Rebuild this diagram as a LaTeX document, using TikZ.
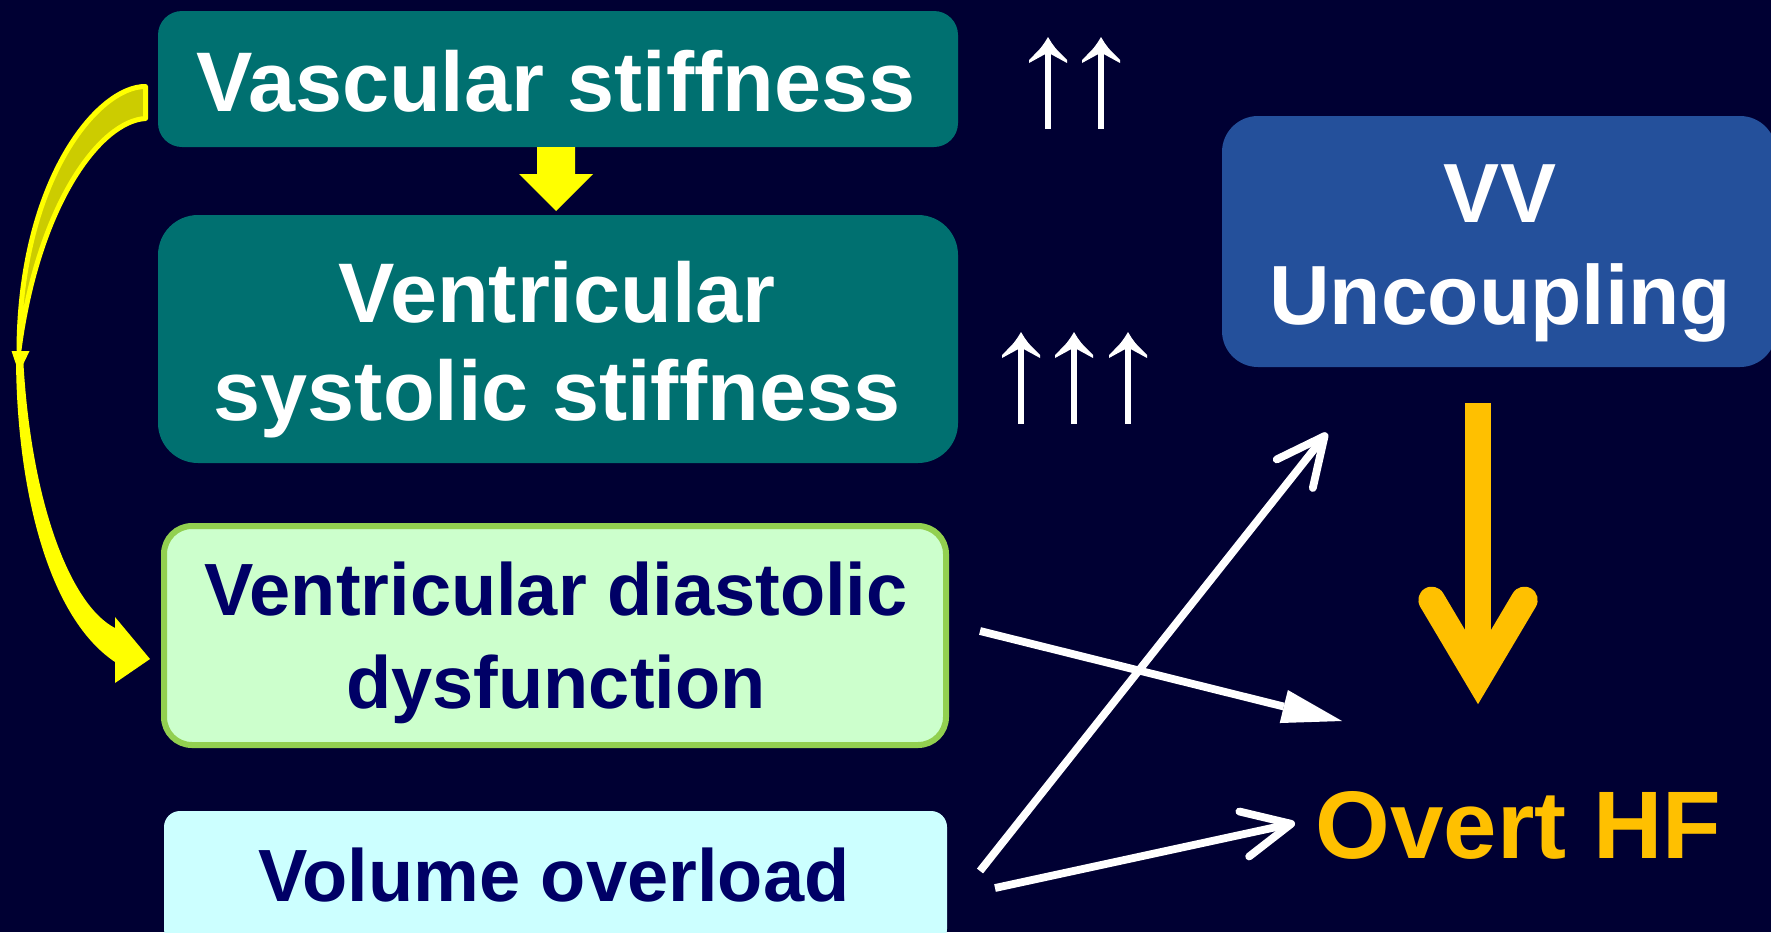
\documentclass[tikz,border=0pt]{standalone}
\usepackage{fontspec}
\setmainfont{Liberation Sans}
\usetikzlibrary{arrows.meta,calc}
\definecolor{bgnavy}{RGB}{0,0,51}
\definecolor{tealbox}{RGB}{0,112,112}
\definecolor{lgreen}{RGB}{204,255,204}
\definecolor{ggreen}{RGB}{146,208,80}
\definecolor{lcyan}{RGB}{204,255,255}
\definecolor{vvblue}{RGB}{36,80,155}
\definecolor{navytxt}{RGB}{0,0,102}
\definecolor{orng}{RGB}{255,192,0}
\definecolor{olivefill}{RGB}{204,204,0}
\definecolor{yel}{RGB}{255,255,0}
\begin{document}
\begin{tikzpicture}[x=0.5pt,y=-0.5pt,
  box/.style={rectangle,inner sep=0pt,outer sep=0pt},
  lbl/.style={anchor=base,inner sep=0pt,outer sep=0pt,align=center},
  wline/.style={white,line width=3.9pt},
  barb/.style={-{Straight Barb[length=24pt,width=23pt,round]}},
]
\useasboundingbox (0,0) rectangle (1771,932);
\fill[bgnavy] (0,0) rectangle (1771,932);

% boxes
\node[box,fill=tealbox,rounded corners=12pt,minimum width=400pt,minimum height=68pt] (vs) at (558,79) {};
\node[box,fill=tealbox,rounded corners=20pt,minimum width=400pt,minimum height=124pt] (vsys) at (558,339) {};
\node[box,fill=lgreen,draw=ggreen,line width=3pt,rounded corners=14pt,minimum width=391pt,minimum height=109.5pt] (vd) at (555,635.5) {};
\node[box,fill=lcyan,rounded corners=8pt,minimum width=391.5pt,minimum height=67pt] (vo) at (555.5,878) {};
\node[box,fill=vvblue,rounded corners=18pt,minimum width=277pt,minimum height=125.5pt] (vv) at (1499,241.5) {};

% texts (base anchor = baseline of the last line)
\node[lbl,text=white,font=\bfseries\fontsize{42.3}{49}\selectfont] (vst) at (556,111) {Vascular stiffness};
\node[lbl,text=white,font=\bfseries\fontsize{42.3}{49}\selectfont] (vsyst) at (557,420) {Ventricular\\systolic stiffness};
\node[lbl,text=navytxt,font=\bfseries\fontsize{37}{46.5}\selectfont] (vdt) at (556,708) {Ventricular diastolic\\dysfunction};
\node[lbl,text=navytxt,font=\bfseries\fontsize{37}{44}\selectfont] (vot) at (554,901) {Volume overload};
\node[lbl,text=white,font=\bfseries\fontsize{42}{51}\selectfont] (vvt) at (1500,324) {VV\\Uncoupling};
\node[lbl,text=orng,font=\bfseries\fontsize{48}{56}\selectfont] (hf) at (1518.5,858) {Overt HF};

% yellow block arrow between the two teal boxes
\fill[yel] ($(vs.south)+(-21,0)$) -- ($(vs.south)+(17,0)$) -- ($(vs.south)+(17,27)$)
  -- ($(vs.south)+(35,27)$) -- ($(vsys.north)+(-2,-4)$) -- ($(vs.south)+(-39,27)$)
  -- ($(vs.south)+(-21,27)$) -- cycle;

% curved yellow arrow from vascular stiffness to diastolic dysfunction
\filldraw[fill=olivefill,draw=yel,line width=2.5pt,line join=round]
  (145.5,86.5) .. controls (98,86) and (20,180) .. (19,350)
  .. controls (38,205) and (100,121) .. (145.5,118.5) -- cycle;
\fill[yel] (11.5,351) -- (29.5,351) -- (19,373) -- cycle;
\fill[yel] (16,355) .. controls (16,480) and (45,615) .. (115,662) -- (115,683) -- (150,659)
  -- (115,617) -- (115,628) .. controls (70,605) and (30,500) .. (23,355) -- cycle;

% thin up arrows
\foreach \X/\T/\B in {1048/37/129,1101/37/129,1021/332/424,1074/332/424,1128/332/424}{
  \fill[white] ({\X-2.6},{\T+14}) rectangle ({\X+2.6},\B);
  \fill[white] (\X,\T) .. controls ({\X-6},{\T+10}) .. ({\X-19},{\T+23})
    -- ({\X-19},{\T+26}) .. controls ({\X-10},{\T+22}) .. ({\X-2.6},{\T+17})
    -- ({\X+2.6},{\T+17}) .. controls ({\X+10},{\T+22}) .. ({\X+19},{\T+26})
    -- ({\X+19},{\T+23}) .. controls ({\X+6},{\T+10}) .. (\X,\T) -- cycle;
}

% free ends of connectors
\coordinate (endA) at (1342,721);
\coordinate (endB) at (1327,433);
\coordinate (endC) at (1295,823);
\coordinate (orTop) at (1478,403);
\coordinate (orJoint) at (1478,678);
\coordinate (orWingL) at (1431.7,600);
\coordinate (orWingR) at (1524.3,600);

% white arrows
\draw[wline,-{Triangle[length=30pt,width=17pt,line width=0pt]}] ([xshift=17pt,yshift=2.25pt]vd.east) -- (endA);
\draw[wline,barb] ([xshift=16.5pt,yshift=3.5pt]vo.east) -- (endB);
\draw[wline,barb] ([xshift=24pt,yshift=-5pt]vo.east) -- (endC);

% orange arrow
\draw[orng,line width=13.35pt] (orTop) -- (orJoint);
\draw[orng,line width=13.35pt,line cap=round,line join=miter] (orWingL) -- (orJoint) -- (orWingR);
\end{tikzpicture}
\end{document}
